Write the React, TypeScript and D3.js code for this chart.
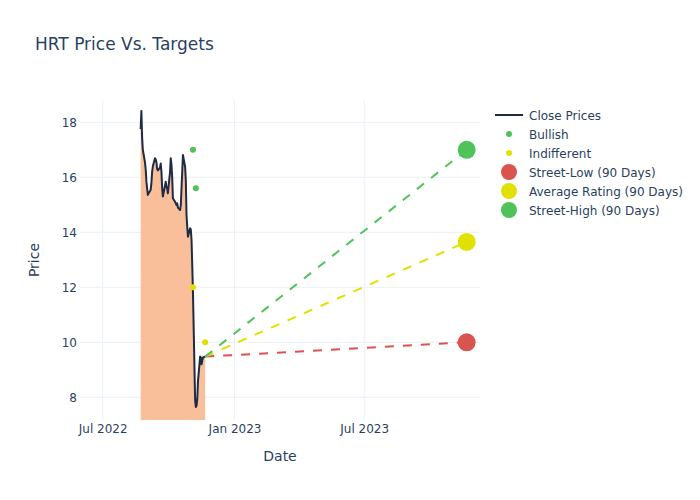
import React, { useEffect, useRef } from 'react';
import * as d3 from 'd3';

const closeDates = [
  '2022-08-23', '2022-08-24', '2022-08-25', '2022-08-26', '2022-08-29', '2022-08-30', '2022-08-31',
  '2022-09-01', '2022-09-02', '2022-09-06', '2022-09-07', '2022-09-08', '2022-09-09', '2022-09-12',
  '2022-09-13', '2022-09-14', '2022-09-15', '2022-09-16', '2022-09-19', '2022-09-20', '2022-09-21',
  '2022-09-22', '2022-09-23', '2022-09-26', '2022-09-27', '2022-09-28', '2022-09-29', '2022-09-30',
  '2022-10-03', '2022-10-04', '2022-10-05', '2022-10-06', '2022-10-07', '2022-10-10', '2022-10-11',
  '2022-10-12', '2022-10-13', '2022-10-14', '2022-10-17', '2022-10-18', '2022-10-19', '2022-10-20',
  '2022-10-21', '2022-10-24', '2022-10-25', '2022-10-26', '2022-10-27', '2022-10-28', '2022-10-31',
  '2022-11-01', '2022-11-02', '2022-11-03', '2022-11-04', '2022-11-07', '2022-11-08', '2022-11-09',
  '2022-11-10', '2022-11-11', '2022-11-14', '2022-11-15', '2022-11-16', '2022-11-17', '2022-11-18',
  '2022-11-21',
];

const closePrices = [
  17.75, 18.41, 17.45, 17.0, 16.55, 16.3, 15.85,
  15.6, 15.36, 15.55, 15.8, 16.2, 16.4, 16.69,
  16.65, 16.55, 16.3, 16.25, 16.35, 16.5, 16.2,
  15.6, 15.3, 15.7, 15.84, 15.65, 15.6, 15.42,
  16.2, 16.69, 16.45, 16.0, 15.24, 15.11, 15.05,
  14.99, 15.05, 14.9, 14.81, 14.99, 15.6, 16.2,
  16.81, 16.39, 15.9, 14.63, 14.2, 13.84, 14.15,
  14.1, 13.72, 12.8, 11.8, 7.9, 7.65, 7.7,
  7.95, 8.6, 9.48, 9.45, 9.2, 9.35, 9.45,
  9.48,
];

const bullishDates = ['2022-11-04', '2022-11-08'];
const bullishValues = [17.0, 15.6];
const indifferentDates = ['2022-11-04', '2022-11-21'];
const indifferentValues = [12.0, 10.0];

const targetDate = '2023-11-21';
const targetNames = ['Street-Low (90 Days)', 'Average Rating (90 Days)', 'Street-High (90 Days)'];
const targetValues = [10.0, 13.65, 17.0];
const targetColors = ['#d9534f', '#e1e100', '#4fc35a'];

const yTicks = [8, 10, 12, 14, 16, 18];
const xTicks = ['2022-07-01', '2023-01-01', '2023-07-01'];

const textColor = '#2a3f5f';
const gridColor = '#ebf0f8';
const font = '"DejaVu Sans", sans-serif';

const parse = d3.utcParse('%Y-%m-%d');

const PriceTargetsChart: React.FC = () => {
  const svgRef = useRef<SVGSVGElement>(null);
  const width = 700;
  const height = 500;

  useEffect(() => {
    const svgElement = svgRef.current;
    if (!svgElement) return;
    const svg = d3.select(svgElement);
    svg.selectAll('*').remove();

    const margin = { top: 100, right: 220, bottom: 80, left: 80 };
    const innerWidth = width - margin.left - margin.right;
    const innerHeight = height - margin.top - margin.bottom;

    const xScale = d3
      .scaleUtc()
      .domain([new Date(Date.UTC(2022, 4, 30, 8)), new Date(Date.UTC(2023, 11, 9, 14))])
      .range([0, innerWidth]);

    const yScale = d3.scaleLinear().domain([7.175, 18.81]).range([innerHeight, 0]);

    const closeData = closeDates.map((d, i) => ({ date: parse(d) as Date, value: closePrices[i] }));
    const last = closeData[closeData.length - 1];

    svg.append('rect').attr('width', width).attr('height', height).attr('fill', '#fff');

    // Title
    svg
      .append('text')
      .attr('x', 35)
      .attr('y', 50)
      .style('font-family', font)
      .style('font-size', '17px')
      .style('fill', textColor)
      .text('HRT Price Vs. Targets');

    const g = svg.append('g').attr('transform', `translate(${margin.left}, ${margin.top})`);

    svg
      .append('defs')
      .append('clipPath')
      .attr('id', 'plot-clip')
      .append('rect')
      .attr('width', innerWidth)
      .attr('height', innerHeight);

    // Grid lines
    g.selectAll('.grid-y')
      .data(yTicks)
      .enter()
      .append('line')
      .attr('x1', 0)
      .attr('x2', innerWidth)
      .attr('y1', d => yScale(d))
      .attr('y2', d => yScale(d))
      .style('stroke', gridColor)
      .style('stroke-width', 1);

    g.selectAll('.grid-x')
      .data(xTicks)
      .enter()
      .append('line')
      .attr('x1', d => xScale(parse(d) as Date))
      .attr('x2', d => xScale(parse(d) as Date))
      .attr('y1', 0)
      .attr('y2', innerHeight)
      .style('stroke', gridColor)
      .style('stroke-width', 1);

    // Axes
    const yAxis = g
      .append('g')
      .call(d3.axisLeft(yScale).tickValues(yTicks).tickSize(0).tickPadding(3));
    yAxis.select('.domain').remove();
    yAxis
      .selectAll('text')
      .style('fill', textColor)
      .style('font-size', '12px')
      .style('font-family', font);

    const xAxis = g
      .append('g')
      .attr('transform', `translate(0, ${innerHeight})`)
      .call(
        d3
          .axisBottom(xScale)
          .tickValues(xTicks.map(d => parse(d) as Date))
          .tickFormat(d => d3.utcFormat('%b %Y')(d as Date))
          .tickSize(0)
          .tickPadding(4)
      );
    xAxis.select('.domain').remove();
    xAxis
      .selectAll('text')
      .style('fill', textColor)
      .style('font-size', '12px')
      .style('font-family', font);

    // Axis titles
    svg
      .append('text')
      .attr('x', margin.left + innerWidth / 2)
      .attr('y', 461)
      .attr('text-anchor', 'middle')
      .style('font-family', font)
      .style('font-size', '14px')
      .style('fill', textColor)
      .text('Date');

    svg
      .append('text')
      .attr('transform', `translate(39, ${margin.top + innerHeight / 2}) rotate(-90)`)
      .attr('text-anchor', 'middle')
      .style('font-family', font)
      .style('font-size', '14px')
      .style('fill', textColor)
      .text('Price');

    const plot = g.append('g').attr('clip-path', 'url(#plot-clip)');

    // Close price area + line
    const area = d3
      .area<{ date: Date; value: number }>()
      .x(d => xScale(d.date))
      .y0(innerHeight)
      .y1(d => yScale(d.value));

    plot.append('path').datum(closeData).attr('fill', '#f9bf9a').attr('d', area);

    const line = d3
      .line<{ date: Date; value: number }>()
      .x(d => xScale(d.date))
      .y(d => yScale(d.value));

    plot
      .append('path')
      .datum(closeData)
      .attr('fill', 'none')
      .attr('stroke', '#1f2a44')
      .attr('stroke-width', 2)
      .attr('stroke-linejoin', 'round')
      .attr('d', line);

    // Target dashed lines
    const tDate = parse(targetDate) as Date;
    targetValues.forEach((v, i) => {
      plot
        .append('line')
        .attr('x1', xScale(last.date))
        .attr('y1', yScale(last.value))
        .attr('x2', xScale(tDate))
        .attr('y2', yScale(v))
        .attr('stroke', targetColors[i])
        .attr('stroke-width', 2)
        .attr('stroke-dasharray', '9,9');
    });

    // Analyst markers
    bullishDates.forEach((d, i) => {
      plot
        .append('circle')
        .attr('cx', xScale(parse(d) as Date))
        .attr('cy', yScale(bullishValues[i]))
        .attr('r', 3)
        .attr('fill', targetColors[2]);
    });
    indifferentDates.forEach((d, i) => {
      plot
        .append('circle')
        .attr('cx', xScale(parse(d) as Date))
        .attr('cy', yScale(indifferentValues[i]))
        .attr('r', 3)
        .attr('fill', targetColors[1]);
    });

    // Target markers
    targetValues.forEach((v, i) => {
      plot
        .append('circle')
        .attr('cx', xScale(tDate))
        .attr('cy', yScale(v))
        .attr('r', 9)
        .attr('fill', targetColors[i]);
    });

    // Legend
    const legend = svg.append('g').attr('transform', 'translate(495, 115)');
    const items = [
      { name: 'Close Prices', kind: 'line', color: '#1f2a44', r: 0 },
      { name: 'Bullish', kind: 'dot', color: targetColors[2], r: 3 },
      { name: 'Indifferent', kind: 'dot', color: targetColors[1], r: 3 },
      ...targetNames.map((n, i) => ({ name: n, kind: 'dot', color: targetColors[i], r: 8 })),
    ];
    items.forEach((item, i) => {
      const row = legend.append('g').attr('transform', `translate(0, ${i * 19})`);
      if (item.kind === 'line') {
        row
          .append('line')
          .attr('x1', 0)
          .attr('x2', 28)
          .attr('stroke', item.color)
          .attr('stroke-width', 2);
      } else {
        row.append('circle').attr('cx', 14).attr('r', item.r).attr('fill', item.color);
      }
      row
        .append('text')
        .attr('x', 34)
        .attr('y', 4.5)
        .style('font-family', font)
        .style('font-size', '12px')
        .style('fill', textColor)
        .text(item.name);
    });

    return () => {
      svg.selectAll('*').remove();
    };
  }, []);

  return (
    <svg
      ref={svgRef}
      width={width}
      height={height}
      style={{ position: 'absolute', left: 0, top: 0 }}
    />
  );
};

export default function App() {
  return <PriceTargetsChart />;
}
